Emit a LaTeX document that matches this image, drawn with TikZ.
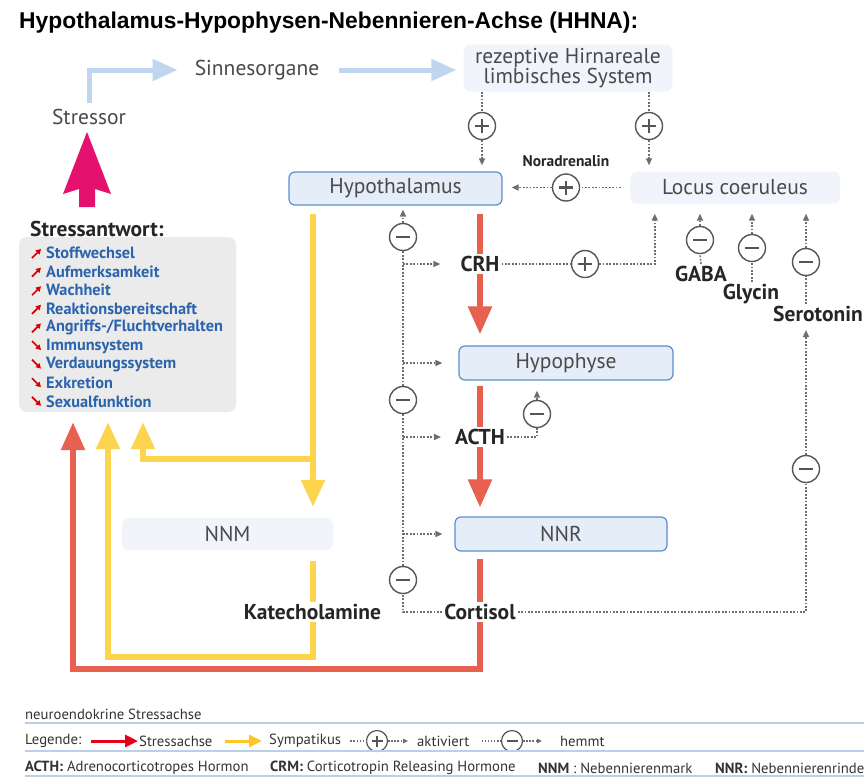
\documentclass[tikz,border=0pt]{standalone}
\usepackage{graphicx}
\usepackage{fontspec}
\setmainfont{PT Sans}
\newfontfamily\titlefont{Liberation Sans}
\usetikzlibrary{arrows.meta,calc}
\definecolor{boxfill}{HTML}{E4EDF8}
\definecolor{boxborder}{HTML}{5B8FCC}
\definecolor{softfill}{HTML}{F1F5FB}
\definecolor{boxtext}{HTML}{4A4A4A}
\definecolor{graybox}{HTML}{EBEBEB}
\definecolor{listblue}{HTML}{2B63AD}
\definecolor{redc}{HTML}{E8604F}
\definecolor{yelc}{HTML}{FDD44E}
\definecolor{magc}{HTML}{E4126E}
\definecolor{lblue}{HTML}{BFD6EE}
\definecolor{fbc}{HTML}{6E6E6E}
\definecolor{sigc}{HTML}{555555}
\definecolor{legred}{HTML}{E2001A}
\definecolor{legyel}{HTML}{FCC62A}
\definecolor{legtext}{HTML}{333333}
\definecolor{legline}{HTML}{B8D0EA}
\newcommand\myfs[1]{\fontsize{#1}{#1}\selectfont}
\pgfdeclarelayer{bg}
\pgfdeclarelayer{lines}
\pgfsetlayers{bg,lines,main}
\begin{document}
\begin{tikzpicture}[x=1pt,y=-1pt,
  plain/.style={text=boxtext, font=\myfs{21.5}, inner sep=2pt},
  boxnode/.style={rectangle, rounded corners=6pt, draw=boxborder, line width=1.2pt, fill=boxfill, text=boxtext, font=\myfs{21.5}, inner sep=0pt},
  softbox/.style={rectangle, rounded corners=7pt, fill=softfill, text=boxtext, font=\myfs{21.5}, inner sep=0pt},
  lbl/.style={font=\bfseries\myfs{21.5}, text=black!85, fill=white, inner sep=2pt},
  sig/.style={circle, draw=sigc, line width=1.4pt, fill=white, minimum size=27pt, inner sep=0pt},
  pluscirc/.style={sig, path picture={
     \draw[line width=2.1pt, sigc] ([xshift=-7pt]path picture bounding box.center) -- ([xshift=7pt]path picture bounding box.center);
     \draw[line width=2.1pt, sigc] ([yshift=-7pt]path picture bounding box.center) -- ([yshift=7pt]path picture bounding box.center);}},
  minuscirc/.style={sig, path picture={
     \draw[line width=2.3pt, sigc] ([xshift=-7pt]path picture bounding box.center) -- ([xshift=7pt]path picture bounding box.center);}},
  fb/.style={draw=fbc, line width=1.5pt, dash pattern=on 1.8pt off 1.6pt},
  fbarrow/.style={fb, -{Triangle[length=7pt,width=6pt]}},
  redarrow/.style={draw=redc, line width=5.5pt, -{Triangle[length=28pt,width=23pt]}},
  yelarrow/.style={draw=yelc, line width=5.5pt, -{Triangle[length=27pt,width=23pt]}},
  bluearrow/.style={draw=lblue, line width=5pt, -{Triangle[length=25pt,width=21pt]}},
  listitem/.style={anchor=west, text=listblue, font=\bfseries\myfs{16.3}, inner sep=0pt},
  iconup/.style={draw=red!85!black, line width=1.7pt, -{Triangle[length=5pt,width=5.5pt]}},
  leg/.style={anchor=west, text=legtext, font=\myfs{14.7}, inner sep=0pt},
  legsig/.style={circle, draw=sigc, line width=1.2pt, fill=white, minimum size=21pt, inner sep=0pt},
  legplus/.style={legsig, path picture={
     \draw[line width=1.7pt, sigc] ([xshift=-5.5pt]path picture bounding box.center) -- ([xshift=5.5pt]path picture bounding box.center);
     \draw[line width=1.7pt, sigc] ([yshift=-5.5pt]path picture bounding box.center) -- ([yshift=5.5pt]path picture bounding box.center);}},
  legminus/.style={legsig, path picture={
     \draw[line width=1.9pt, sigc] ([xshift=-5.5pt]path picture bounding box.center) -- ([xshift=5.5pt]path picture bounding box.center);}},
  legfb/.style={draw=fbc, line width=1.2pt, dash pattern=on 1.5pt off 1.6pt},
  legrule/.style={draw=legline, line width=1.6pt}
]
\useasboundingbox (0,0) rectangle (864,777);
\begin{pgfonlayer}{bg}
\fill[white] (0,0) rectangle (864,777);
\end{pgfonlayer}

% title
\node[anchor=west, inner sep=0pt] (title) at (19,23) {\resizebox{619pt}{!}{\titlefont\bfseries Hypothalamus-Hypophysen-Nebennieren-Achse (HHNA):}};

% top row
\node[plain] (stressor) at (89,117) {Stressor};
\node[plain] (sinnes) at (257,70) {Sinnesorgane};
\node[softbox, minimum width=209pt, minimum height=47pt, align=center, font=\fontsize{21.5}{18}\selectfont] (rez) at (568,68) {rezeptive Hirnareale\\limbisches System};

% boxes
\node[boxnode, minimum width=213pt, minimum height=33pt] (hyp) at (395.5,188.5) {Hypothalamus};
\node[softbox, minimum width=210pt, minimum height=32pt] (lc) at (735,187.5) {Locus coeruleus};
\node[boxnode, minimum width=214pt, minimum height=34pt] (hypo) at (566,363) {Hypophyse};
\node[boxnode, minimum width=212pt, minimum height=34pt] (nnr) at (561,534) {NNR};
\node[softbox, minimum width=211pt, minimum height=32pt] (nnm) at (227.5,534) {NNM};

% stress response box
\node[anchor=west, font=\bfseries\myfs{21.5}, text=black!85, inner sep=0pt] (sa) at (30,229) {Stressantwort:};
\node[rectangle, rounded corners=8pt, fill=graybox, minimum width=217pt, minimum height=175pt, inner sep=0pt] (resp) at (127.5,324.5) {};
\foreach \t [count=\i] in {Stoffwechsel,Aufmerksamkeit,Wachheit,Reaktionsbereitschaft,Angriffs-/Fluchtverhalten,Immunsystem,Verdauungssystem,Exkretion,Sexualfunktion} {
  \node[listitem] (li\i) at (46,{253+(\i-1)*18.6}) {\t};
}
\foreach \i in {1,...,5} { \draw[iconup] ($(li\i.west)+(-14,5)$) -- ++(9,-9); }
\foreach \i in {6,...,9} { \draw[iconup] ($(li\i.west)+(-14,-5)$) -- ++(9,9); }

% magenta arrow
\fill[magc] (87,132) -- (111,194) -- (95,189) -- (95,207) -- (79,207) -- (79,189) -- (63,194) -- cycle;

% labels
\node[lbl] (crh) at (480,264) {CRH};
\node[lbl] (acth) at (480,437) {ACTH};
\node[lbl] (cortisol) at (480,612) {Cortisol};
\node[lbl] (katechol) at (312.5,612) {Katecholamine};
\node[lbl] (gaba) at (701,274) {GABA};
\node[lbl] (glycin) at (751,294) {Glycin};
\node[lbl] (serotonin) at (818,314) {Serotonin};
\node[lbl, font=\bfseries\myfs{15.5}] (noradr) at (566,161) {Noradrenalin};

% circles
\node[pluscirc] (p1) at (482,126) {};
\node[pluscirc] (p2) at (649,126) {};
\node[pluscirc] (p3) at (566,187.5) {};
\node[pluscirc] (p4) at (585,264) {};
\node[minuscirc] (m1) at (403,237) {};
\node[minuscirc] (m2) at (403,400) {};
\node[minuscirc] (m3) at (403,580) {};
\node[minuscirc] (m4) at (537,414) {};
\node[minuscirc] (m5) at (700,240) {};
\node[minuscirc] (m6) at (752,248) {};
\node[minuscirc] (m7) at (806,262) {};
\node[minuscirc] (m8) at (806,469) {};

\coordinate (yx) at (313,0);
\coordinate (yj) at (313,459);
\coordinate (yb2) at (143,0);
\coordinate (yc) at (108,657);
\coordinate (rc) at (73,669);

\begin{pgfonlayer}{lines}
% light blue arrows
\draw[bluearrow, shorten <=4pt, shorten >=15pt] (stressor.north) |- (sinnes.west);
\draw[bluearrow, shorten <=18pt, shorten >=7pt] (sinnes.east) -- (rez.west |- sinnes.east);

% red axis
\draw[redarrow, shorten <=8pt, shorten >=11pt] (hyp.south -| crh) -- (hypo.north -| crh);
\draw[redarrow, shorten <=5pt, shorten >=9pt] (hypo.south -| acth) -- (nnr.north -| acth);
\draw[redarrow, shorten <=7pt, shorten >=10pt] (nnr.south -| cortisol) |- (rc) -- (resp.south -| rc);

% yellow
\draw[yelarrow, shorten <=8pt, shorten >=11pt] (hyp.south -| yx) -- (nnm.north -| yx);
\draw[yelarrow, shorten >=10pt] (yj) -| (resp.south -| yb2);
\draw[yelarrow, shorten <=11pt, shorten >=10pt] (nnm.south -| yx) |- (yc) -- (resp.south -| yc);

% dotted feedback
\draw[fb] (rez.south -| p1) -- (p1.north);
\draw[fbarrow, shorten >=6pt] (p1.south) -- (hyp.north -| p1);
\draw[fb] (rez.south -| p2) -- (p2.north);
\draw[fbarrow, shorten >=6pt] (p2.south) -- (lc.north -| p2);
\draw[fb, shorten <=9pt] (lc.west |- p3) -- (p3.east);
\draw[fbarrow, shorten >=9pt] (p3.west) -- (hyp.east |- p3);

\draw[fbarrow, shorten >=4pt] (m1.north) -- (hyp.south -| m1);
\draw[fb] (cortisol.west) -| (m3.south);
\draw[fb] (m3.north) -- (m2.south);
\draw[fb] (m2.north) -- (m1.south);
\draw[fbarrow, shorten >=18pt] (m1.south |- crh) -- (crh.west);
\draw[fbarrow, shorten >=16pt] (m1.south |- hypo.west) -- (hypo.west);
\draw[fbarrow, shorten >=12pt] (m1.south |- acth) -- (acth.west);
\draw[fbarrow, shorten >=12pt] (m1.south |- nnr.west) -- (nnr.west);

\draw[fb] (crh.east) -- (p4.west);
\draw[fbarrow, shorten >=10pt] (p4.east) -| ([xshift=25pt]lc.south west);
\draw[fb] (gaba.north) -- (m5.south);
\draw[fbarrow, shorten >=10pt] (m5.north) -- (lc.south -| m5);
\draw[fb] (glycin.north -| m6) -- (m6.south);
\draw[fbarrow, shorten >=10pt] (m6.north) -- (lc.south -| m6);
\draw[fb] (serotonin.north -| m7) -- (m7.south);
\draw[fbarrow, shorten >=10pt] (m7.north) -- (lc.south -| m7);
\draw[fb] (cortisol.east) -| (m8.south);
\draw[fbarrow, shorten >=6pt] (m8.north) -- (serotonin.south -| m8);
\draw[fb] (acth.east) -| (m4.south);
\draw[fbarrow, shorten >=10pt] (m4.north) -- (hypo.south -| m4);
\end{pgfonlayer}

% legend
\node[leg] (neuro) at (25,714) {neuroendokrine Stressachse};
\draw[legrule] (25,723) -- (864,723);
\node[leg] (legende) at (25,741) {Legende:};
\node[leg] (sachse) at (139,741) {Stressachse};
\node[leg] (sympat) at (269,741) {Sympatikus};
\node[legplus] (lp) at (377,741) {};
\node[leg] (aktiv) at (417,741) {aktiviert};
\node[legminus] (ln) at (512,741) {};
\node[leg] (hemmt) at (560,741) {hemmt};
\draw[legred, line width=3pt, -{Triangle[length=13pt,width=12pt]}, shorten <=10pt, shorten >=1pt] (legende.east) -- (sachse.west);
\draw[legyel, line width=3pt, -{Triangle[length=13pt,width=12pt]}, shorten <=12pt, shorten >=7pt] (sachse.east) -- (sympat.west);
\draw[legfb, shorten <=9pt] (sympat.east) -- (lp.west);
\draw[legfb, -{Triangle[length=5pt,width=4.5pt]}, shorten >=9pt] (lp.east) -- (aktiv.west);
\draw[legfb, shorten <=12pt] (aktiv.east) -- (ln.west);
\draw[legfb, -{Triangle[length=5pt,width=4.5pt]}, shorten >=18pt] (ln.east) -- (hemmt.west);
\draw[legrule] (25,751) -- (864,751);
\node[leg] (abb1) at (25,768) {\textbf{ACTH:} Adrenocorticotropes Hormon};
\node[leg] (abb2) at (270,768) {\textbf{CRM:} Corticotropin Releasing Hormone};
\node[leg] (abb3) at (538,768) {\textbf{NNM} : Nebennierenmark};
\node[leg] (abb4) at (715,768) {\textbf{NNR:} Nebennierenrinde};
\draw[legrule] (25,776) -- (864,776);
\end{tikzpicture}
\end{document}
